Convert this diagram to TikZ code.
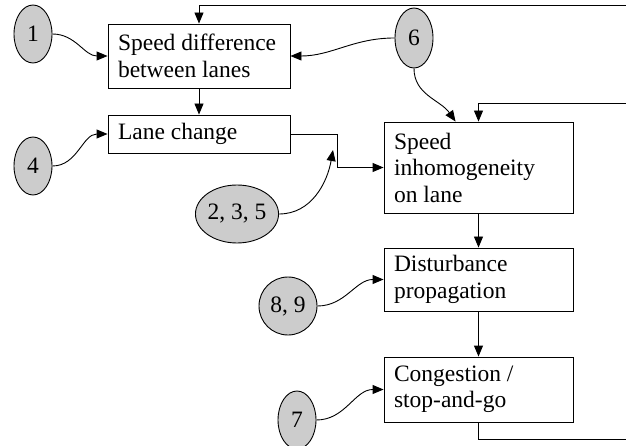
\documentclass[tikz,border=0pt]{standalone}
\usepackage{fontspec}
\setmainfont{Liberation Serif}
\usetikzlibrary{shapes.geometric,arrows.meta,calc}
\begin{document}
\begin{tikzpicture}[x=1pt,y=-1pt,
  line width=0.9pt,
  every node/.style={font=\fontsize{23.5}{26.5}\selectfont},
  boxnode/.style={draw,rectangle,inner sep=0pt,line width=0.9pt},
  boxtext/.style={anchor=west,align=left,inner sep=0pt,xshift=10pt},
  bubble/.style={draw,ellipse,fill=black!20,inner sep=0pt,line width=0.9pt},
  conn/.style={-{Triangle[length=11pt,width=9pt]}}]
\useasboundingbox (0,0) rectangle (626,446);
% boxes
\node[boxnode,minimum width=182pt,minimum height=64pt] (b1) at (199,56) {};
\node[boxtext] (b1t) at (b1.west) {Speed difference\\between lanes};
\node[boxnode,minimum width=182pt,minimum height=38pt] (b2) at (199,134) {};
\node[boxtext] (b2t) at (b2.west) {Lane change};
\node[boxnode,minimum width=189pt,minimum height=91pt] (b3) at (478.5,167.5) {};
\node[boxtext] (b3t) at (b3.west) {Speed\\inhomogeneity\\on lane};
\node[boxnode,minimum width=189pt,minimum height=63pt] (b4) at (478.5,279.5) {};
\node[boxtext] (b4t) at (b4.west) {Disturbance\\propagation};
\node[boxnode,minimum width=189pt,minimum height=65pt] (b5) at (478.5,389.5) {};
\node[boxtext] (b5t) at (b5.west) {Congestion /\\stop-and-go};
% ellipses
\node[bubble,minimum width=38pt,minimum height=58pt] (e1) at (33,34) {1};
\node[bubble,minimum width=38pt,minimum height=58pt] (e4) at (33,166) {4};
\node[bubble,minimum width=38pt,minimum height=60pt] (e6) at (414,38) {6};
\node[bubble,minimum width=78pt,minimum height=58pt] (e235) at (237,214) {2, 3, 5};
\node[bubble,minimum width=58pt,minimum height=58pt] (e89) at (288,306) {8, 9};
\node[bubble,minimum width=38pt,minimum height=58pt] (e7) at (297,420) {7};
% coordinates
\coordinate (j) at (337,0);
\coordinate (t) at (333,150);
\coordinate (r1) at (626,5);
\coordinate (r2) at (626,103);
\coordinate (r3) at (626,439);
% connectors
\draw[conn] (e1.east) to[out=0,in=180] (b1.west);
\draw[conn] (e4.east) to[out=0,in=180] (b2.west);
\draw[conn] (e6.west) to[out=180,in=0] (b1.east);
\draw[conn] (e6.south) to[out=-90,in=125] ($(b3.north west)+(72,0)$);
\draw[conn] (b1.south) -- (b2.north);
\draw[conn] (b2.east) -| (j |- b3.west) -- (b3.west);
\draw[conn] (e235.east) to[out=0,in=-100] (t);
\draw[conn] (b3.south) -- (b4.north);
\draw[conn] (b4.south) -- (b5.north);
\draw[conn] (e89.east) to[out=0,in=180] (b4.west);
\draw[conn] (e7.east) to[out=0,in=180] (b5.west);
\draw[conn] (r1) -| (b1.north);
\draw[conn] (r2) -| (b3.north);
\draw (b5.south) |- (r3);
\end{tikzpicture}
\end{document}
